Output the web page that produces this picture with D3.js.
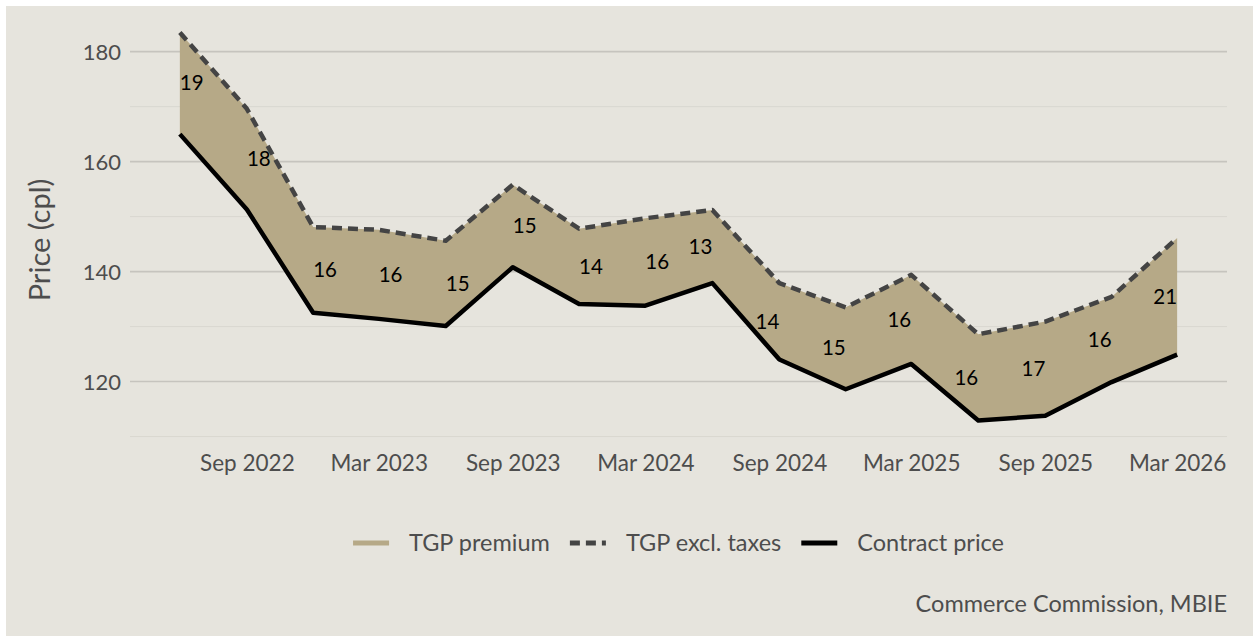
<!DOCTYPE html>
<html>
<head>
<meta charset="utf-8">
<script src="https://cdn.jsdelivr.net/npm/d3@7"></script>
<style>
  html, body { margin: 0; padding: 0; background: #ffffff; }
  svg { display: block; font-family: Lato, "Open Sans", sans-serif; }
</style>
</head>
<body>
<svg id="chart" width="1253" height="636"></svg>
<script>
// ---- data ----
const quarters = ["2022-06","2022-09","2022-12","2023-03","2023-06","2023-09","2023-12","2024-03",
                  "2024-06","2024-09","2024-12","2025-03","2025-06","2025-09","2025-12","2026-03"];
const tgpExclTaxes = [183.5,169.6,148.1,147.6,145.6,155.8,147.8,149.7,151.2,137.9,133.5,139.4,128.6,130.9,135.4,146.1];
const contractPrice = [165.0,151.3,132.5,131.4,130.1,140.8,134.1,133.8,137.9,124.0,118.6,123.2,112.9,113.8,119.9,124.9];
const premiumLabels = ["19","18","16","16","15","15","14","16","13","14","15","16","16","17","16","21"];
const xTickDates = ["2022-09","2023-03","2023-09","2024-03","2024-09","2025-03","2025-09","2026-03"];
const yTicksMajor = [120,140,160,180];
const yTicksMinor = [110,130,150,170];
const legendLabels = ["TGP premium","TGP excl. taxes","Contract price"];
const yTitle = "Price (cpl)";
const caption = "Commerce Commission, MBIE";

// ---- setup ----
const parse = d3.timeParse("%Y-%m");
const dates = quarters.map(parse);
const data = dates.map((d,i)=>({date:d, tgp:tgpExclTaxes[i], contract:contractPrice[i], label:premiumLabels[i]}));

const svg = d3.select("#chart");
const W = 1253, H = 636;
const panel = {left:130, right:1227, top:13, bottom:440};

svg.append("rect").attr("x",6).attr("y",6).attr("width",W-6).attr("height",H-6).attr("fill","#E6E4DD");

// x scale with 5% expansion
const [d0,d1] = d3.extent(dates);
const pad = (d1 - d0) * 0.05;
const x = d3.scaleTime().domain([new Date(+d0 - pad), new Date(+d1 + pad)]).range([panel.left, panel.right]);

// y scale with 5% expansion
const allVals = tgpExclTaxes.concat(contractPrice);
const [v0,v1] = d3.extent(allVals);
const vpad = (v1 - v0) * 0.05;
const y = d3.scaleLinear().domain([v0 - vpad, v1 + vpad]).range([panel.bottom, panel.top]);

const textCol = "#4D4D4D";

// gridlines
const grid = svg.append("g");
grid.selectAll("line.minor").data(yTicksMinor).join("line")
  .attr("x1",panel.left).attr("x2",panel.right)
  .attr("y1",d=>y(d)).attr("y2",d=>y(d))
  .attr("stroke","#D9D7D0").attr("stroke-width",1);
grid.selectAll("line.major").data(yTicksMajor).join("line")
  .attr("x1",panel.left).attr("x2",panel.right)
  .attr("y1",d=>y(d)).attr("y2",d=>y(d))
  .attr("stroke","#C6C4BE").attr("stroke-width",1.6);

// y axis labels
const yAxis = d3.axisLeft(y).tickValues(yTicksMajor).tickSize(0).tickPadding(0);
const gy = svg.append("g").attr("transform",`translate(${121},0)`).call(yAxis);
gy.select(".domain").remove();
gy.selectAll("text").attr("fill",textCol).attr("font-size",22).attr("font-family","Lato").attr("dy","0.35em");

// x axis labels
const xAxis = d3.axisBottom(x).tickValues(xTickDates.map(parse)).tickFormat(d3.timeFormat("%b %Y")).tickSize(0).tickPadding(0);
const gx = svg.append("g").attr("transform",`translate(0,${463})`).call(xAxis);
gx.select(".domain").remove();
gx.selectAll("text").attr("fill",textCol).attr("font-size",22.5).attr("font-family","Lato").attr("dy","0.35em");

// y title
svg.append("text").attr("transform",`translate(${50},${240}) rotate(-90)`)
  .attr("text-anchor","middle").attr("fill",textCol).attr("font-size",29).text(yTitle);

// area
const fillCol = "#B6A987";
const area = d3.area().x(d=>x(d.date)).y0(d=>y(d.contract)).y1(d=>y(d.tgp));
svg.append("path").datum(data).attr("d",area).attr("fill",fillCol);

// lines
const lineT = d3.line().x(d=>x(d.date)).y(d=>y(d.tgp));
const lineC = d3.line().x(d=>x(d.date)).y(d=>y(d.contract));
svg.append("path").datum(data).attr("d",lineT).attr("fill","none")
  .attr("stroke","#444444").attr("stroke-width",4.5).attr("stroke-dasharray","10,6").attr("stroke-linejoin","round");
svg.append("path").datum(data).attr("d",lineC).attr("fill","none")
  .attr("stroke","#000000").attr("stroke-width",4.5).attr("stroke-linejoin","round");

// premium labels
svg.append("g").selectAll("text").data(data).join("text")
  .attr("x",d=>x(d.date)).attr("y",d=>(y(d.tgp)+y(d.contract))/2)
  .attr("dy","0.35em")
  .attr("text-anchor",(d,i)=> i < data.length/2 ? "start" : "end")
  .attr("fill","#000").attr("font-size",20.5)
  .text(d=>d.label);

// legend
const lg = svg.append("g");
const keyW = 36, gapKT = 20, gapItems = 20;
let cx = 0;
legendLabels.forEach((lab,i)=>{
  const g = lg.append("g");
  const key = g.append("line").attr("x1",0).attr("x2",keyW).attr("y1",0).attr("y2",0).attr("stroke-width",5);
  if(i===0) key.attr("stroke",fillCol);
  if(i===1) key.attr("stroke","#444444").attr("stroke-dasharray","10,6");
  if(i===2) key.attr("stroke","#000");
  const t = g.append("text").attr("x",keyW+gapKT).attr("dy","0.35em").attr("fill",textCol).attr("font-size",23.5).text(lab);
  const w = keyW + gapKT + t.node().getComputedTextLength();
  g.attr("transform",`translate(${cx},0)`);
  cx += w + gapItems;
});
const totalW = cx - gapItems;
lg.attr("transform",`translate(${(panel.left+panel.right)/2 - totalW/2},${543})`);

// caption
svg.append("text").attr("x",1227).attr("y",604).attr("dy","0.35em").attr("text-anchor","end")
  .attr("fill",textCol).attr("font-size",23.5).text(caption);
</script>
</body>
</html>
